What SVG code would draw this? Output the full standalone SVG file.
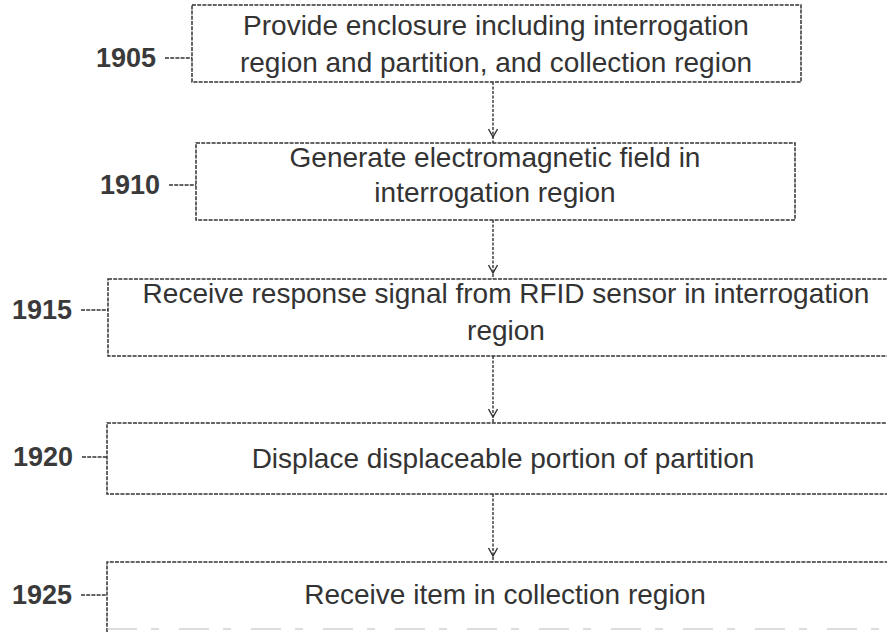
<svg xmlns="http://www.w3.org/2000/svg" width="887" height="632" viewBox="0 0 887 632">
  <defs>
    <path id="head" d="M-4.5,-8 L0,0 L4.5,-8" fill="none" stroke="#333" stroke-width="1.4"/>
  </defs>
  <style>
    .box { fill: none; stroke: #333; stroke-width: 1.5; stroke-dasharray: 4 1.2; }
    .lead { fill: none; stroke: #333; stroke-width: 1.5; stroke-dasharray: 4 1.2; }
    .conn { fill: none; stroke: #333; stroke-width: 1.4; stroke-dasharray: 3 1.5; }
    .txt { font-family: "Liberation Sans", Arial, sans-serif; font-size: 28px; fill: #333; text-anchor: middle; }
    .lbl { font-family: "Liberation Sans", Arial, sans-serif; font-size: 27px; font-weight: bold; fill: #3a3a3a; }
  </style>
  <rect width="887" height="632" fill="#fff"/>

  <g id="connectors">
    <line class="conn" x1="493" y1="82" x2="493" y2="143"/>
    <use href="#head" x="493" y="137"/>
    <line class="conn" x1="493" y1="220" x2="493" y2="279"/>
    <use href="#head" x="493" y="273"/>
    <line class="conn" x1="493" y1="356" x2="493" y2="423"/>
    <use href="#head" x="493" y="417"/>
    <line class="conn" x1="493" y1="494" x2="493" y2="562"/>
    <use href="#head" x="493" y="556"/>
  </g>

  <g id="n1905">
    <rect class="box" x="192" y="5" width="609" height="77"/>
    <text class="txt" x="496" y="35">Provide enclosure including interrogation</text>
    <text class="txt" x="496" y="72">region and partition, and collection region</text>
    <text class="lbl" x="96" y="67">1905</text>
    <line class="lead" x1="165" y1="58" x2="192" y2="58"/>
  </g>

  <g id="n1910">
    <rect class="box" x="196" y="143" width="599" height="77"/>
    <text class="txt" x="495" y="167">Generate electromagnetic field in</text>
    <text class="txt" x="495" y="202">interrogation region</text>
    <text class="lbl" x="100" y="194">1910</text>
    <line class="lead" x1="169" y1="185" x2="196" y2="185"/>
  </g>

  <g id="n1915">
    <rect class="box" x="108" y="279" width="800" height="77"/>
    <text class="txt" x="506" y="303">Receive response signal from RFID sensor in interrogation</text>
    <text class="txt" x="506" y="340">region</text>
    <text class="lbl" x="12" y="319">1915</text>
    <line class="lead" x1="81" y1="310" x2="108" y2="310"/>
  </g>

  <g id="n1920">
    <rect class="box" x="107" y="423" width="800" height="71"/>
    <text class="txt" x="503" y="468">Displace displaceable portion of partition</text>
    <text class="lbl" x="13" y="466">1920</text>
    <line class="lead" x1="82" y1="457" x2="107" y2="457"/>
  </g>

  <g id="n1925">
    <path class="box" d="M107,632 L107,562 L900,562"/>
    <line x1="107" y1="629" x2="887" y2="629" stroke="#bbb" stroke-width="1.2" stroke-dasharray="30 14 8 20"/>
    <text class="txt" x="505" y="604">Receive item in collection region</text>
    <text class="lbl" x="12" y="604">1925</text>
    <line class="lead" x1="81" y1="595" x2="107" y2="595"/>
  </g>
</svg>
